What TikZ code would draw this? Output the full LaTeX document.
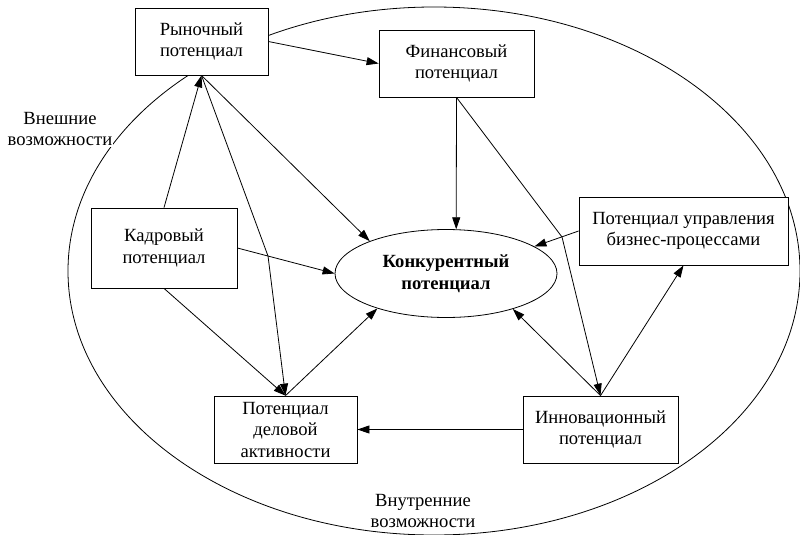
\documentclass[tikz,border=0pt]{standalone}
\usepackage{fontspec}
\setmainfont{Liberation Serif}
\usetikzlibrary{arrows.meta,shapes.geometric}

\begin{document}
\begin{tikzpicture}[x=1pt,y=-1pt,-{Triangle[length=12pt,width=8pt]},line width=0.8pt,
  pot/.style={draw,fill=white,align=center,inner sep=0pt,font=\fontsize{18.6}{21.5}\selectfont},
  konkell/.style={draw,fill=white,ellipse,align=center,inner sep=0pt,minimum width=222,minimum height=88,font=\fontsize{18.6}{21.5}\selectfont\bfseries},
  lbl/.style={fill=white,align=center,inner sep=1pt,font=\fontsize{18.6}{21.5}\selectfont}]
\useasboundingbox (0,0) rectangle (800,535);
\draw[-] (434,271) ellipse [x radius=366, y radius=264];

\node[pot,minimum width=133,minimum height=67] (ryn) at (201.5,41.5) {Рыночный\\потенциал};
\node[pot,minimum width=155,minimum height=67] (fin) at (456.5,63.5) {Финансовый\\потенциал};
\node[pot,minimum width=146,minimum height=80] (kadr) at (164,248) {Кадровый\\потенциал};
\node[pot,minimum width=209,minimum height=68] (upr) at (683.5,231) {Потенциал управления\\бизнес-процессами};
\node[pot,minimum width=143,minimum height=67] (del) at (285.5,429.5) {Потенциал\\деловой\\активности};
\node[pot,minimum width=155,minimum height=67] (inn) at (600.5,429.5) {Инновационный\\потенциал};
\node[konkell] (konk) at (446,273.5) {Конкурентный\\потенциал};

\node[lbl] (vne) at (60,129) {Внешние\\возможности};
\node[lbl] (vnu) at (423,511) {Внутренние\\возможности};

\path (ryn.east) edge (fin.west);
\path (kadr.north) edge (ryn.south);
\path (ryn.south) edge (konk.157);
\path (kadr.east) edge (konk.180);
\path (kadr.south) edge (del.north);
\path (del.north) edge (konk.207);
\path (fin.south) edge (konk.77);
\path (upr.west) edge (konk.17);
\path (inn.north) edge (konk.332);
\path (inn.north) edge (upr.south);
\path (inn.west) edge (del.east);

% crossings
\coordinate (k1) at (268,256);
\coordinate (k2) at (562,237);
\draw (ryn.south) -- (k1) -- (del.north);
\draw (fin.south) -- (k2) -- (inn.north);

\end{tikzpicture}
\end{document}
